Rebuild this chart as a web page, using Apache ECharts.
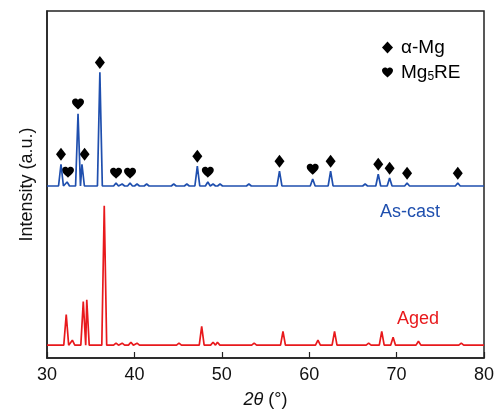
<!DOCTYPE html>
<html>
<head>
<meta charset="utf-8">
<script src="https://cdn.jsdelivr.net/npm/echarts@6/dist/echarts.min.js"></script>
<style>
  html, body { margin: 0; padding: 0; background: #fff; }
  #chart { width: 501px; height: 414px; }
</style>
</head>
<body>
<div id="chart"></div>
<script>
// 2θ ticks
const xTicks = [30, 40, 50, 60, 70, 80];

// baselines of the two offset patterns (a.u.)
const asCastOffset = 174;
const agedOffset = 13;

// peaks: [2θ, height]
const asCastPeaks = [
  [31.6, 22], [32.3, 4], [33.55, 73], [34.0, 22], [36.05, 115], [37.9, 3],
  [38.6, 2], [39.5, 3], [40.3, 2], [41.4, 2], [44.5, 2], [46.0, 2],
  [47.2, 20], [48.4, 4], [49.0, 2], [49.8, 2], [53.1, 2], [56.6, 15],
  [60.4, 7], [62.45, 15], [66.4, 2], [67.9, 12], [69.2, 8], [71.2, 3], [77.0, 3]
];
const agedPeaks = [
  [32.2, 31], [32.9, 5], [34.15, 44], [34.55, 46], [36.55, 141], [37.9, 2],
  [38.6, 2], [39.6, 3], [40.3, 2], [45.1, 2], [47.7, 19], [49.0, 3],
  [49.5, 3], [53.7, 2], [57.0, 14], [61.0, 5], [62.9, 14], [66.8, 2],
  [68.3, 14], [69.6, 8], [72.5, 4], [77.4, 2]
];

// phase markers on the as-cast pattern: [2θ, peak height under it]
const alphaMgMarks = [
  [31.6, 22], [34.3, 22], [36.05, 115], [47.2, 20], [56.6, 15], [62.45, 15],
  [67.9, 12], [69.2, 8], [71.2, 3], [77.0, 3]
];
const mg5reMarks = [
  [32.4, 4], [33.55, 73], [37.9, 3], [39.5, 3], [48.4, 4], [60.4, 7]
];

const peakHalfWidth = 0.28;
const markGap = 10;

function profile(peaks, offset) {
  const pts = [[30, offset]];
  peaks.forEach(([p, h]) => {
    pts.push([p - peakHalfWidth, offset], [p, offset + h], [p + peakHalfWidth, offset]);
  });
  pts.push([80, offset]);
  return pts;
}
function marks(list) {
  return list.map(([p, h]) => [p, asCastOffset + h + markGap]);
}

const heart = 'path://M12 21.35l-1.45-1.32C5.4 15.36 2 12.28 2 8.5 2 5.42 4.42 3 7.5 3c1.74 0 3.41.81 4.5 2.09C13.09 3.81 14.76 3 16.5 3 19.58 3 22 5.42 22 8.5c0 3.78-3.4 6.86-8.55 11.54L12 21.35z';
const font = 'Liberation Sans';

const chart = echarts.init(document.getElementById('chart'), null, { renderer: 'canvas' });
chart.setOption({
  animation: false,
  textStyle: { fontFamily: font, color: '#111' },
  grid: { left: 47, right: 17, top: 11, bottom: 52, show: true, borderColor: '#222', borderWidth: 1.5 },
  legend: {
    orient: 'vertical', left: 377, top: 33, itemGap: 6,
    itemWidth: 11, itemHeight: 12,
    data: ['α-Mg', 'Mg5RE'],
    formatter: n => n === 'Mg5RE' ? 'Mg{sub|5}RE' : n,
    textStyle: {
      fontFamily: font, fontSize: 19, color: '#000', padding: [0, 0, 0, 3],
      rich: { sub: { fontFamily: font, fontSize: 12, padding: [9, 0, 0, 0], color: '#000' } }
    }
  },
  xAxis: {
    type: 'value', min: 30, max: 80, interval: 10,
    axisLine: { lineStyle: { color: '#222', width: 1.5 } },
    axisTick: { inside: true, length: 6, lineStyle: { color: '#222', width: 1.2 } },
    axisLabel: { fontSize: 18, color: '#111', margin: 8, fontFamily: font,
      customValues: xTicks },
    splitLine: { show: false },
    name: '{it|2θ} (°)', nameLocation: 'middle', nameGap: 33,
    nameTextStyle: { fontSize: 18, color: '#111', fontFamily: font,
      rich: { it: { fontStyle: 'italic', fontSize: 18, fontFamily: font, color: '#111' } } }
  },
  yAxis: {
    type: 'value', min: 0, max: 351,
    axisLine: { show: true, lineStyle: { color: '#222', width: 1.5 } },
    axisTick: { show: false }, axisLabel: { show: false }, splitLine: { show: false },
    name: 'Intensity (a.u.)', nameLocation: 'middle', nameGap: 11,
    nameTextStyle: { fontSize: 18, color: '#111', fontFamily: font }
  },
  graphic: [
    { type: 'text', left: 380, top: 203, style: { text: 'As-cast', fill: '#1f4fae', font: '18px "Liberation Sans"' } },
    { type: 'text', left: 397, top: 310, style: { text: 'Aged', fill: '#e8191c', font: '18px "Liberation Sans"' } }
  ],
  series: [
    { name: 'As-cast', type: 'line', data: profile(asCastPeaks, asCastOffset), showSymbol: false,
      lineStyle: { color: '#1f4fae', width: 1.7 }, itemStyle: { color: '#1f4fae' } },
    { name: 'Aged', type: 'line', data: profile(agedPeaks, agedOffset), showSymbol: false,
      lineStyle: { color: '#e8191c', width: 1.7 }, itemStyle: { color: '#e8191c' } },
    { name: 'α-Mg', type: 'scatter', data: marks(alphaMgMarks), symbol: 'diamond',
      symbolSize: [10, 13], itemStyle: { color: '#000', opacity: 1 } },
    { name: 'Mg5RE', type: 'scatter', data: marks(mg5reMarks), symbol: heart,
      symbolSize: [12, 11], itemStyle: { color: '#000', opacity: 1 } }
  ]
});
</script>
</body>
</html>
